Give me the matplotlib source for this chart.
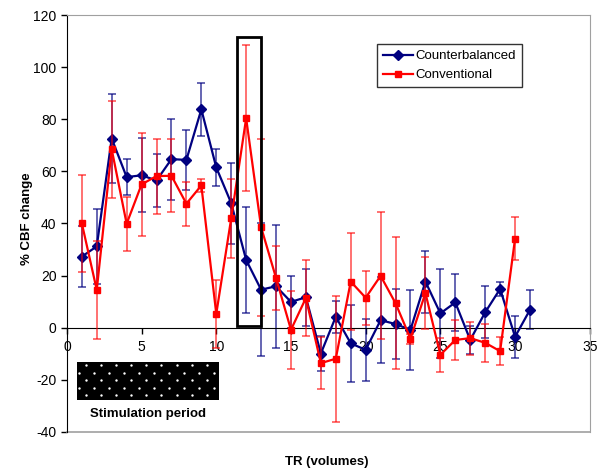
import numpy as np
import matplotlib
matplotlib.use("Agg")
import matplotlib.pyplot as plt
from matplotlib.patches import Rectangle

plt.rcParams['font.family'] = ['Liberation Sans', 'DejaVu Sans']
plt.rcParams['axes.unicode_minus'] = False

# TR index and % CBF change for both schemes
tr_cb = list(range(1, 32))
counterbalanced = [27.3, 31.2, 72.6, 57.8, 58.5, 56.5, 64.7, 64.4, 83.8, 61.5, 47.8,
                   26.0, 14.6, 15.9, 9.9, 11.7, -9.9, 4.2, -6.0, -8.5, 2.9, 1.4,
                   -0.8, 17.7, 5.5, 9.7, -4.7, 5.9, 14.9, -3.5, 6.9]
counterbalanced_err = [11.8, 14.4, 17.1, 7.0, 14.2, 10.1, 15.5, 11.4, 10.2, 7.0, 15.5,
                       20.5, 25.5, 23.5, 10.0, 11.0, 6.7, 6.1, 14.9, 11.8, 16.6, 13.6,
                       15.3, 11.9, 17.2, 10.9, 5.3, 10.0, 2.6, 8.0, 7.5]

tr_conv = list(range(1, 31))
conventional = [40.1, 14.5, 68.5, 39.9, 55.0, 58.2, 58.3, 47.6, 54.6, 5.3, 42.0,
                80.4, 38.6, 19.1, -0.8, 11.4, -13.6, -11.9, 17.7, 11.5, 19.9, 9.4,
                -4.2, 13.3, -10.4, -4.7, -4.0, -5.8, -9.0, 34.2]
conventional_err = [18.6, 18.8, 18.7, 10.3, 19.7, 14.4, 14.0, 8.4, 2.5, 12.9, 15.1,
                    28.1, 34.0, 12.3, 15.0, 14.4, 10.0, 24.2, 18.7, 10.3, 24.4, 25.3,
                    1.9, 13.8, 6.6, 7.8, 6.3, 7.4, 5.3, 8.4]

# stimulation period spans roughly TR 0.65 - 10.2
stim_start, stim_end = 0.65, 10.2

navy = '#000080'
red = '#ff0000'
fs = 9.5

fig = plt.figure(figsize=(6.08, 4.70), dpi=100)
ax = fig.add_axes([0.110, 0.081, 0.860, 0.887])

ax.errorbar(tr_cb, counterbalanced, yerr=counterbalanced_err, fmt='none',
            ecolor=navy, alpha=0.7, elinewidth=1.2, capsize=2.8, capthick=1.2, zorder=2)
ax.plot(tr_cb, counterbalanced, color=navy, lw=1.6, marker='D', ms=5,
        label='Counterbalanced', zorder=3)

ax.errorbar(tr_conv, conventional, yerr=conventional_err, fmt='none',
            ecolor=red, alpha=0.65, elinewidth=1.2, capsize=2.8, capthick=1.2, zorder=4)
ax.plot(tr_conv, conventional, color=red, lw=1.6, marker='s', ms=4.5,
        label='Conventional', zorder=5)

ax.set_xlim(0, 35)
ax.set_ylim(-40, 120)
ax.set_xticks(range(0, 36, 5))
ax.set_yticks(range(-40, 121, 20))

# Excel-style axes: x axis crosses at zero, gray plot-area border
ax.spines['bottom'].set_position(('data', 0))
ax.spines['top'].set_color('#a0a0a0')
ax.spines['right'].set_color('#a0a0a0')
ax.plot([0, 1], [0, 0], transform=ax.transAxes, color='#a0a0a0', lw=1.2, clip_on=False)
ax.tick_params(axis='both', direction='out', length=4, width=1, labelsize=10)
ax.tick_params(axis='x', pad=5)

# highlighted TR 12 box
ax.add_patch(Rectangle((11.4, 0.5), 1.6, 111, fill=False, ec='black', lw=2, zorder=6))

# stimulation period marker: black bar with staggered white dots
ax.add_patch(Rectangle((stim_start, -27.8), stim_end - stim_start, 14.5,
                       facecolor='black', lw=0, zorder=1))
dot_x, dot_y = [], []
for k in range(5):
    xs = np.arange(1.28 if k % 2 == 0 else 0.78, stim_end, 1.01)
    dot_x.extend(xs)
    dot_y.extend([-14.3 - 2.9 * k] * len(xs))
ax.scatter(dot_x, dot_y, s=3, color='white', linewidths=0, zorder=1.5)
ax.text(5.4, -33, 'Stimulation period', ha='center', va='center',
        fontsize=fs, fontweight='bold')

leg = ax.legend(loc='upper left', bbox_to_anchor=(0.593, 0.93), fontsize=fs,
                frameon=True, fancybox=False, borderpad=0.45, handlelength=2.3,
                handletextpad=0.2, labelspacing=0.5, borderaxespad=0)
leg.get_frame().set_edgecolor('black')
leg.get_frame().set_linewidth(1)

fig.text(0.044, 0.535, '% CBF change', rotation=90, ha='center', va='center',
         fontsize=fs, fontweight='bold')
fig.text(0.538, 0.017, 'TR (volumes)', ha='center', va='center',
         fontsize=fs, fontweight='bold')

fig.savefig('out.png', dpi=100)
